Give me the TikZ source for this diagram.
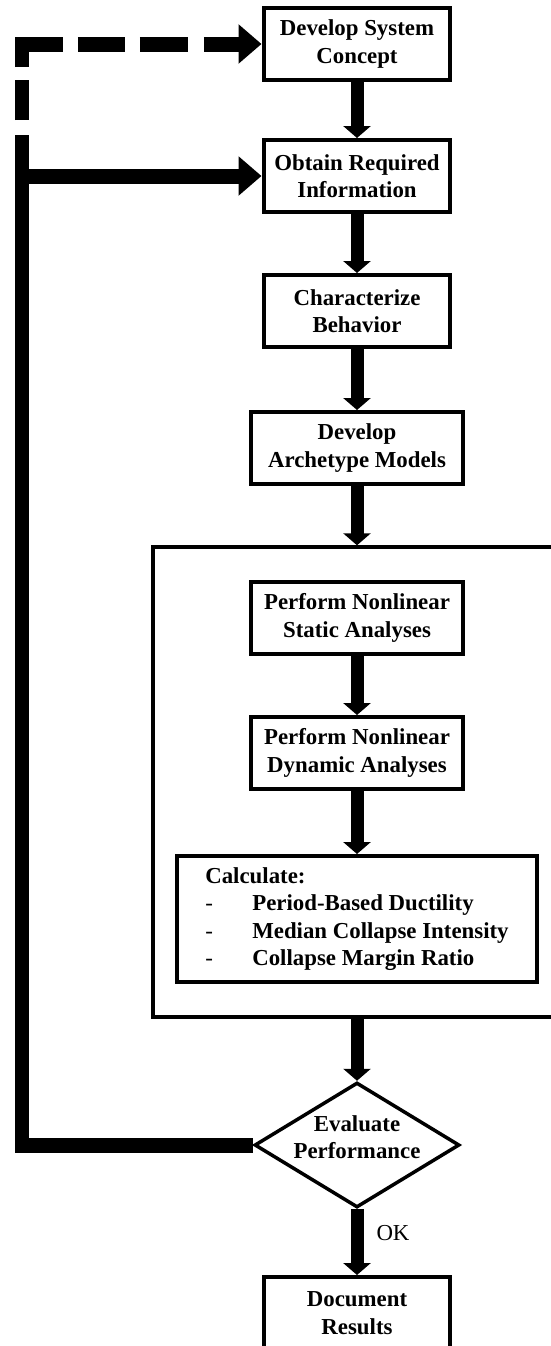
\documentclass[tikz,border=0pt]{standalone}
\usepackage{fontspec}
\setmainfont{Liberation Serif}
\usetikzlibrary{shapes.geometric, arrows.meta}

\begin{document}
\begin{tikzpicture}[x=0.02cm, y=-0.02cm,
  stepbox/.style={rectangle,draw,line width=0.08cm,minimum width=3.74cm,minimum height=1.44cm,align=center,font=\fontsize{13}{15.6}\selectfont\bfseries,inner sep=1pt},
  widebox/.style={stepbox,minimum width=4.24cm},
  calcbox/.style={stepbox,minimum width=7.2cm,minimum height=2.52cm,align=left},
  loopbox/.style={rectangle,draw,line width=0.07cm,minimum width=8.16cm,minimum height=9.4cm},
  decide/.style={diamond,draw,line width=0.07cm,aspect=1.64,inner sep=0pt,minimum width=4.1cm,minimum height=2.5cm,align=center,font=\fontsize{13}{15.6}\selectfont\bfseries},
  flow/.style={-{Triangle[length=0.24cm,width=0.54cm]},line width=0.26cm},
  fb/.style={line width=0.3cm},
  fbarrow/.style={fb,-{Triangle[length=0.46cm,width=0.76cm]}},
  fbdash/.style={fbarrow,dash pattern=on 0pt off 0.3cm on 0.8cm off 0.26cm on 1.28cm off 0.3cm on 0.94cm off 0.3cm on 0.96cm off 0.32cm on 2cm},
  lbl/.style={font=\fontsize{13}{15.6}\selectfont,inner sep=0pt}
]
  \clip (0,0) rectangle (551,1346);

  \node[stepbox] (concept)   at (357,44)   {Develop System\\Concept};
  \node[stepbox] (obtain)    at (357,176)  {Obtain Required\\Information};
  \node[stepbox] (charact)   at (357,311)  {Characterize\\Behavior};
  \node[widebox] (archetype) at (357,448)  {Develop\\Archetype Models};
  \node[loopbox] (loop)      at (357,782)  {};
  \node[widebox] (nlstatic)  at (357,618)  {Perform Nonlinear\\Static Analyses};
  \node[widebox] (nldynamic) at (357,753)  {Perform Nonlinear\\Dynamic Analyses};
  \node[calcbox] (calc)      at (357,919)  {Calculate:\\
    \makebox[0.94cm][l]{\mdseries-}Period-Based Ductility\\
    \makebox[0.94cm][l]{\mdseries-}Median Collapse Intensity\\
    \makebox[0.94cm][l]{\mdseries-}Collapse Margin Ratio};
  \node[decide]  (evalperf)  at (357,1145)
    {\raisebox{0.16cm}[\height][\depth]{Evaluate}\\\raisebox{0.16cm}[\height][\depth]{Performance}};
  \node[stepbox] (docres)    at (357,1313) {Document\\Results};
  \coordinate (fbtop) at (22,135);

  \draw[flow] (concept) -- (obtain);
  \draw[flow] (obtain) -- (charact);
  \draw[flow] (charact) -- (archetype);
  \draw[flow] (archetype) -- (loop.north);
  \draw[flow] (nlstatic) -- (nldynamic);
  \draw[flow] (nldynamic) -- (calc);
  \draw[flow] (loop.south) -- (evalperf.north);
  \draw[flow] (evalperf) -- node[lbl, right=0.26cm, yshift=0.18cm]{OK} (docres);

  \draw[fb] (evalperf.west) -| (fbtop);
  \draw[fbarrow] (fbtop |- obtain.west) -- (obtain.west);
  \draw[fbdash] (fbtop) |- (concept.west);
\end{tikzpicture}
\end{document}
